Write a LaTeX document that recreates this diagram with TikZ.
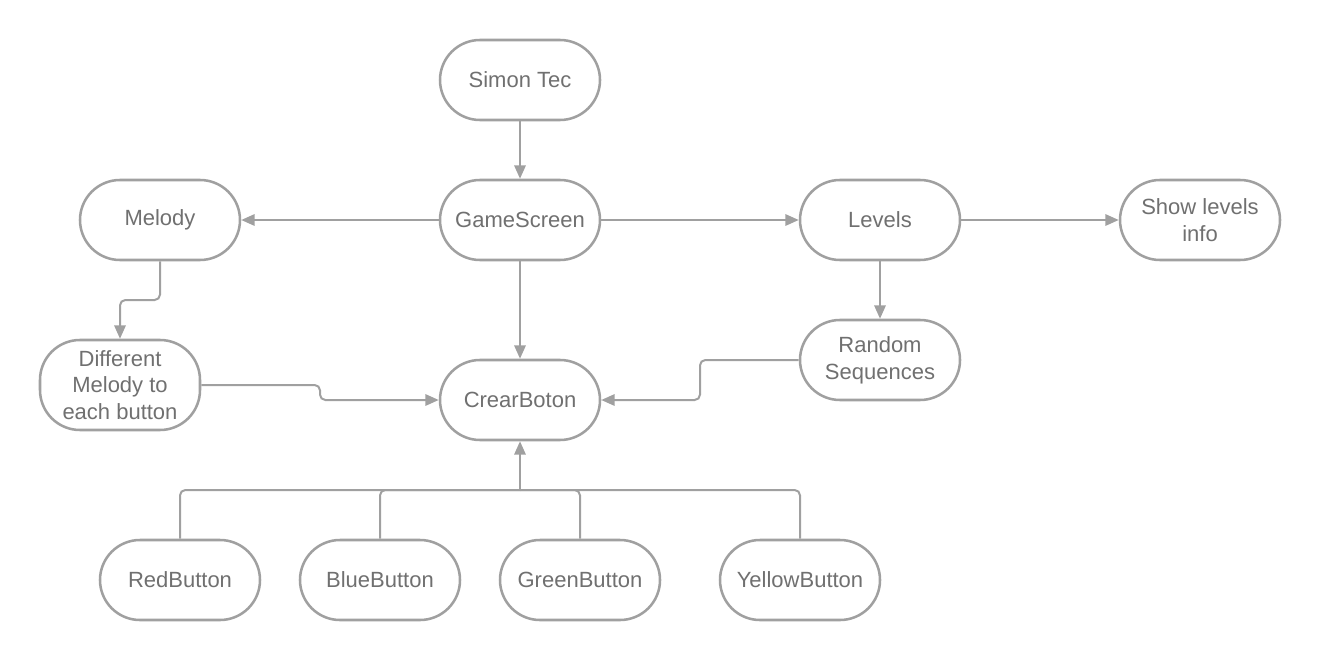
\documentclass[tikz,border=0pt]{standalone}
\usepackage{fontspec}
\setmainfont{Liberation Sans}
\usetikzlibrary{arrows.meta}
\definecolor{linegray}{HTML}{A0A0A0}
\definecolor{textgray}{HTML}{707070}
\begin{document}
\begin{tikzpicture}[x=0.75pt,y=-0.75pt,
  box/.style={draw=linegray, line width=1.9pt, rounded corners=30pt, fill=white,
    minimum width=120pt, minimum height=60pt, inner sep=0pt, align=center,
    text=textgray, font=\fontsize{16.5}{20}\selectfont},
  conn/.style={draw=linegray, line width=1.5pt, rounded corners=4pt},
  arr/.style={conn, -{Triangle[length=10pt,width=8.5pt]}}]
\useasboundingbox (0,0) rectangle (1320,660);
\node[box] (simon) at (520,80) {Simon Tec};
\node[box] (game) at (520,220) {GameScreen};
\node[box] (melody) at (160,220) {Melody};
\node[box] (levels) at (880,220) {Levels};
\node[box] (show) at (1200,220) {Show levels\\info};
\node[box, minimum height=67.5pt] (diff) at (120,385) {Different\\Melody to\\each button};
\node[box] (crear) at (520,400) {CrearBoton};
\node[box] (random) at (880,360) {Random\\Sequences};
\node[box] (red) at (180,580) {RedButton};
\node[box] (blue) at (380,580) {BlueButton};
\node[box] (green) at (580,580) {GreenButton};
\node[box] (yellow) at (800,580) {YellowButton};
\coordinate (m1) at (160,300);
\coordinate (m2) at (120,300);
\coordinate (d1) at (320,385);
\coordinate (d2) at (320,400);
\coordinate (r1) at (700,360);
\coordinate (r2) at (700,400);
\coordinate (j) at (520,490);
\draw[arr] (simon) -- (game);
\draw[arr] (game) -- (melody);
\draw[arr] (game) -- (levels);
\draw[arr] (levels) -- (show);
\draw[arr] (levels) -- (random);
\draw[arr] (game) -- (crear);
\draw[arr] (melody.south) -- (m1) -- (m2) -- (diff.north);
\draw[arr] (diff.east) -- (d1) -- (d2) -- (crear.west);
\draw[arr] (random.west) -- (r1) -- (r2) -- (crear.east);
\draw[conn] (red.north) |- (j);
\draw[conn] (blue.north) |- (j);
\draw[conn] (green.north) |- (j);
\draw[conn] (yellow.north) |- (j);
\draw[arr] (j) -- (crear.south);
\end{tikzpicture}
\end{document}
